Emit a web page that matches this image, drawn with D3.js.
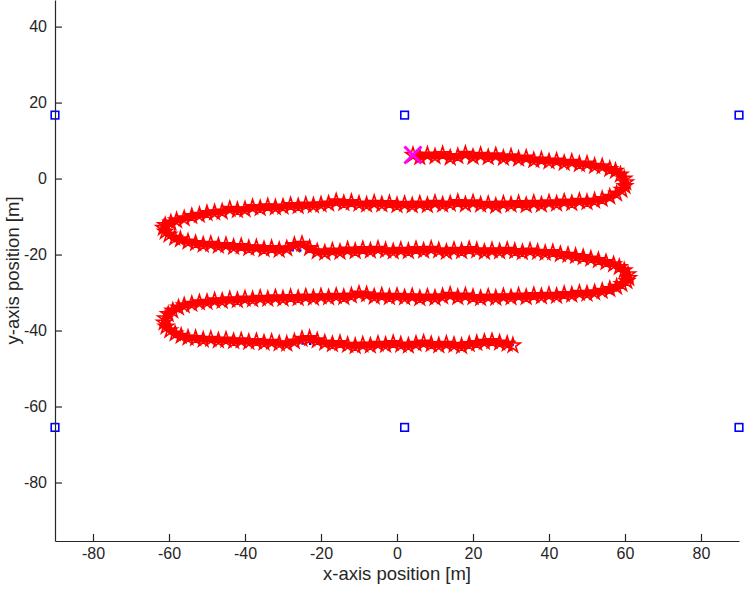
<!DOCTYPE html>
<html>
<head>
<meta charset="utf-8">
<script src="https://cdn.jsdelivr.net/npm/d3@7"></script>
<style>
  body { margin: 0; background: #fff; }
  svg text { font-family: "Liberation Sans", Arial, sans-serif; }
</style>
</head>
<body>
<div id="plotDiv"></div>
<script>
// axis ticks
var xTicks = [-80, -60, -40, -20, 0, 20, 40, 60, 80];
var yTicks = [-80, -60, -40, -20, 0, 20, 40];

// anchor positions (blue squares)
var anchorX = [-90, 2, 90, -90, 2, 90];
var anchorY = [16.7, 16.7, 16.7, -65.5, -65.5, -65.5];

// start point (magenta cross)
var startPt = [4.2, 6.2];

// ground truth waypoints (blue dotted)
var truthX = [4, 20, 40, 52, 58, 60, 58, 52, 40, 20, 0, -20, -40, -52, -58, -61, -59, -52, -40, -20, 0, 20, 40, 52, 58, 60.5, 58, 52, 40, 20, 0, -20, -40, -52, -58, -61, -59, -52, -40, -20, 0, 20, 31];
var truthY = [6, 6, 5, 4, 2, -1, -4, -6, -6.5, -6.5, -6.8, -7, -8, -9.5, -11, -13, -15.5, -17.5, -18.5, -19, -19, -19, -19.5, -21, -23, -26, -28.5, -30, -31, -31, -31, -31.2, -32, -33, -34.5, -37.5, -40.5, -42.3, -43, -43.5, -43.5, -43.5, -43.8];

// estimated track (red stars)
var estimate = [
  [4.2,6.2],[6,5.6],[8,6.3],[10,5.8],[12,6.4],[14,5.5],[16,5.9],[18,6.5],[20,5.7],[22,6.2],[24,5.6],[26,6.1],[28,5.4],[30,5.8],[32,5.2],[34,5.5],[36,4.8],[38,5.0],[40,4.5],[42,4.7],[44,4.1],[46,4.4],[48,3.8],[50,3.9],[52,3.3],[54,3.2],[56,2.5],[57.5,2.0],[58.8,1.0],[59.8,0.0],[60.2,-1.0],[60,-2.0],[59.2,-3.0],[57.8,-4.0],[56,-4.8],[54,-5.4],
  [52,-5.8],[50,-6.2],[48,-5.9],[46,-6.5],[44,-6.1],[42,-6.6],[40,-6.3],[38,-6.9],[36,-6.4],[34,-7.0],[32,-6.5],[30,-6.9],[28,-6.6],[26,-7.2],[24,-6.7],[22,-6.9],[20,-6.3],[18,-6.8],[16,-6.2],[14,-6.6],[12,-6.9],[10,-6.4],[8,-7.0],[6,-6.6],[4,-7.1],[2,-6.7],[0,-7.0],[-2,-6.5],[-4,-6.8],[-6,-6.4],[-8,-6.9],[-10,-6.6],[-12,-6.2],[-14,-6.5],[-16,-6.0],[-18,-6.6],[-20,-6.8],[-22,-7.1],[-24,-6.9],[-26,-7.3],[-28,-7.0],[-30,-7.4],[-32,-7.6],[-34,-7.3],[-36,-7.8],[-38,-7.5],[-40,-8.1],[-42,-8.3],[-44,-8.0],[-46,-8.7],[-48,-8.9],[-50,-9.1],[-52,-9.6],[-54,-9.9],[-56,-10.5],[-58,-11.0],[-59.5,-11.6],[-61,-12.3],[-61.5,-13.0],[-61,-14.0],[-60,-14.8],[-58.5,-15.6],[-57,-16.0],[-55,-16.6],
  [-53,-17.0],[-51,-17.4],[-49,-17.2],[-47,-17.7],[-45,-17.5],[-43,-18.0],[-41,-17.8],[-39,-18.3],[-37,-18.1],[-35,-18.6],[-33,-18.3],[-31,-18.8],[-29,-18.4],[-27,-17.5],[-25,-17.2],[-23,-18.3],[-21,-19.2],[-19,-19.5],[-17,-19.0],[-15,-19.3],[-13,-18.7],[-11,-19.1],[-9,-18.6],[-7,-19.0],[-5,-18.5],[-3,-18.9],[-1,-19.2],[1,-18.8],[3,-19.1],[5,-18.6],[7,-19.0],[9,-18.5],[11,-18.9],[13,-19.3],[15,-18.8],[17,-19.1],[19,-18.6],[21,-18.9],[23,-19.3],[25,-18.9],[27,-19.2],[29,-18.8],[31,-19.1],[33,-19.4],[35,-19.0],[37,-19.3],[39,-19.6],[41,-19.4],[43,-19.9],[45,-20.1],[47,-20.4],[49,-20.7],[51,-21.1],[53,-21.5],[55,-22.0],[57,-22.6],[58.5,-23.3],[59.8,-24.2],[60.8,-25.2],[61,-26.2],[60.5,-27.0],[59.2,-27.8],[57.8,-28.5],[56,-29.1],[54,-29.6],
  [52,-30.0],[50,-30.3],[48,-30.1],[46,-30.6],[44,-30.4],[42,-30.9],[40,-30.6],[38,-31.0],[36,-30.7],[34,-31.2],[32,-30.8],[30,-31.3],[28,-31.0],[26,-31.4],[24,-31.1],[22,-31.5],[20,-31.2],[18,-30.8],[16,-31.2],[14,-30.6],[12,-31.0],[10,-31.4],[8,-31.1],[6,-31.5],[4,-31.0],[2,-31.3],[0,-30.9],[-2,-31.2],[-4,-30.8],[-6,-31.1],[-8,-30.5],[-10,-30.3],[-12,-30.8],[-14,-31.2],[-16,-30.9],[-18,-31.3],[-20,-31.0],[-22,-31.4],[-24,-31.1],[-26,-31.5],[-28,-31.2],[-30,-31.6],[-32,-31.3],[-34,-31.7],[-36,-31.4],[-38,-31.8],[-40,-31.6],[-42,-32.0],[-44,-31.8],[-46,-32.2],[-48,-32.1],[-50,-32.5],[-52,-32.6],[-54,-33.0],[-56,-33.4],[-57.5,-34.0],[-59,-34.8],[-60.2,-35.7],[-61,-36.8],[-61.3,-37.9],[-60.8,-39.0],[-59.8,-40.0],[-58.4,-40.8],[-56.8,-41.4],[-55,-41.9],
  [-53,-42.0],[-51,-42.4],[-49,-42.2],[-47,-42.6],[-45,-42.4],[-43,-42.8],[-41,-42.6],[-39,-43.0],[-37,-42.8],[-35,-43.2],[-33,-43.0],[-31,-43.4],[-29,-43.5],[-27,-42.9],[-25,-42.2],[-23,-42.0],[-21,-42.6],[-19,-43.2],[-17,-43.6],[-15,-43.3],[-13,-43.8],[-11,-44.1],[-9,-43.7],[-7,-44.0],[-5,-43.5],[-3,-43.8],[-1,-43.3],[1,-43.7],[3,-44.0],[5,-43.5],[7,-43.2],[9,-43.6],[11,-43.9],[13,-43.5],[15,-43.8],[17,-44.1],[19,-43.6],[21,-43.3],[23,-43.0],[25,-42.8],[27,-43.2],[29,-43.5],[30.5,-43.9]
];

window.addEventListener("load", draw);

function getConfig(){
    let width = 747, height = 591;
    let margin = {top: 0, right: 8, bottom: 50, left: 55};
    let w = width - margin.left - margin.right;   // 684
    let h = height - margin.top - margin.bottom;  // 541
    return {width, height, margin, w, h, axisColor: "#262626"};
}

function draw(){
    let config = getConfig();

    let svg = d3.select("#plotDiv").append("svg")
        .attr("width", config.width)
        .attr("height", config.height);

    // equal aspect: 3.8 px per metre on both axes
    let xScale = d3.scaleLinear().domain([-90, 90]).range([0, config.w]);
    let yScale = d3.scaleLinear().domain([-95.4, 47]).range([config.h, 0]);

    let g = svg.append("g")
        .attr("transform", `translate(${config.margin.left},${config.margin.top})`);

    // ground truth, blue dotted
    let truth = truthX.map((x, i) => [x, truthY[i]]);
    g.append("path")
        .datum(truth)
        .attr("fill", "none")
        .attr("stroke", "#0000ff")
        .attr("stroke-width", 2.5)
        .attr("stroke-dasharray", "2.5,5")
        .attr("d", d3.line().x(d => xScale(d[0])).y(d => yScale(d[1])).curve(d3.curveCatmullRom));

    // estimate: line + star markers
    g.append("path")
        .datum(estimate)
        .attr("fill", "none")
        .attr("stroke", "#ff0000")
        .attr("stroke-width", 6.5)
        .attr("stroke-linejoin", "round")
        .attr("d", d3.line().x(d => xScale(d[0])).y(d => yScale(d[1])));

    let star = d3.symbol().type(d3.symbolStar).size(66);
    g.append("g").selectAll("path")
        .data(estimate)
        .join("path")
        .attr("transform", d => `translate(${xScale(d[0])},${yScale(d[1])})`)
        .attr("d", star)
        .attr("fill", "none")
        .attr("stroke", "#ff0000")
        .attr("stroke-width", 1.6);

    // anchors
    let anchors = anchorX.map((x, i) => [x, anchorY[i]]);
    g.append("g").selectAll("rect")
        .data(anchors)
        .join("rect")
        .attr("x", d => xScale(d[0]) - 3.8)
        .attr("y", d => yScale(d[1]) - 3.8)
        .attr("width", 7.6)
        .attr("height", 7.6)
        .attr("fill", "none")
        .attr("stroke", "#0000ff")
        .attr("stroke-width", 1.6);

    // start cross
    let sx = xScale(startPt[0]), sy = yScale(startPt[1]), s = 8.5;
    g.append("path")
        .attr("d", `M${sx - s},${sy - s}L${sx + s},${sy + s}M${sx - s},${sy + s}L${sx + s},${sy - s}`)
        .attr("stroke", "#ff00ff")
        .attr("stroke-width", 3)
        .attr("fill", "none");

    // axes
    let fmt = d => String(d);
    let xAx = g.append("g")
        .attr("transform", `translate(0,${config.h})`)
        .call(d3.axisBottom(xScale).tickValues(xTicks).tickFormat(fmt).tickSizeInner(-7).tickSizeOuter(0).tickPadding(7));
    let yAx = g.append("g")
        .call(d3.axisLeft(yScale).tickValues(yTicks).tickFormat(fmt).tickSizeInner(-7).tickSizeOuter(0).tickPadding(8));

    [xAx, yAx].forEach(ax => {
        ax.select(".domain").attr("stroke", config.axisColor).attr("stroke-width", 1.2);
        ax.selectAll(".tick line").attr("stroke", config.axisColor).attr("stroke-width", 1.2);
        ax.selectAll(".tick text")
            .attr("fill", config.axisColor)
            .attr("font-size", 16)
            .attr("font-family", "Liberation Sans, Arial, sans-serif");
    });

    // axis labels
    svg.append("text")
        .attr("x", config.margin.left + config.w / 2)
        .attr("y", 580)
        .attr("text-anchor", "middle")
        .attr("font-size", 18.5)
        .attr("fill", config.axisColor)
        .text("x-axis position [m]");

    svg.append("text")
        .attr("transform", `translate(19,${config.margin.top + config.h / 2}) rotate(-90)`)
        .attr("text-anchor", "middle")
        .attr("font-size", 18.5)
        .attr("fill", config.axisColor)
        .text("y-axis position [m]");
}
</script>
</body>
</html>
